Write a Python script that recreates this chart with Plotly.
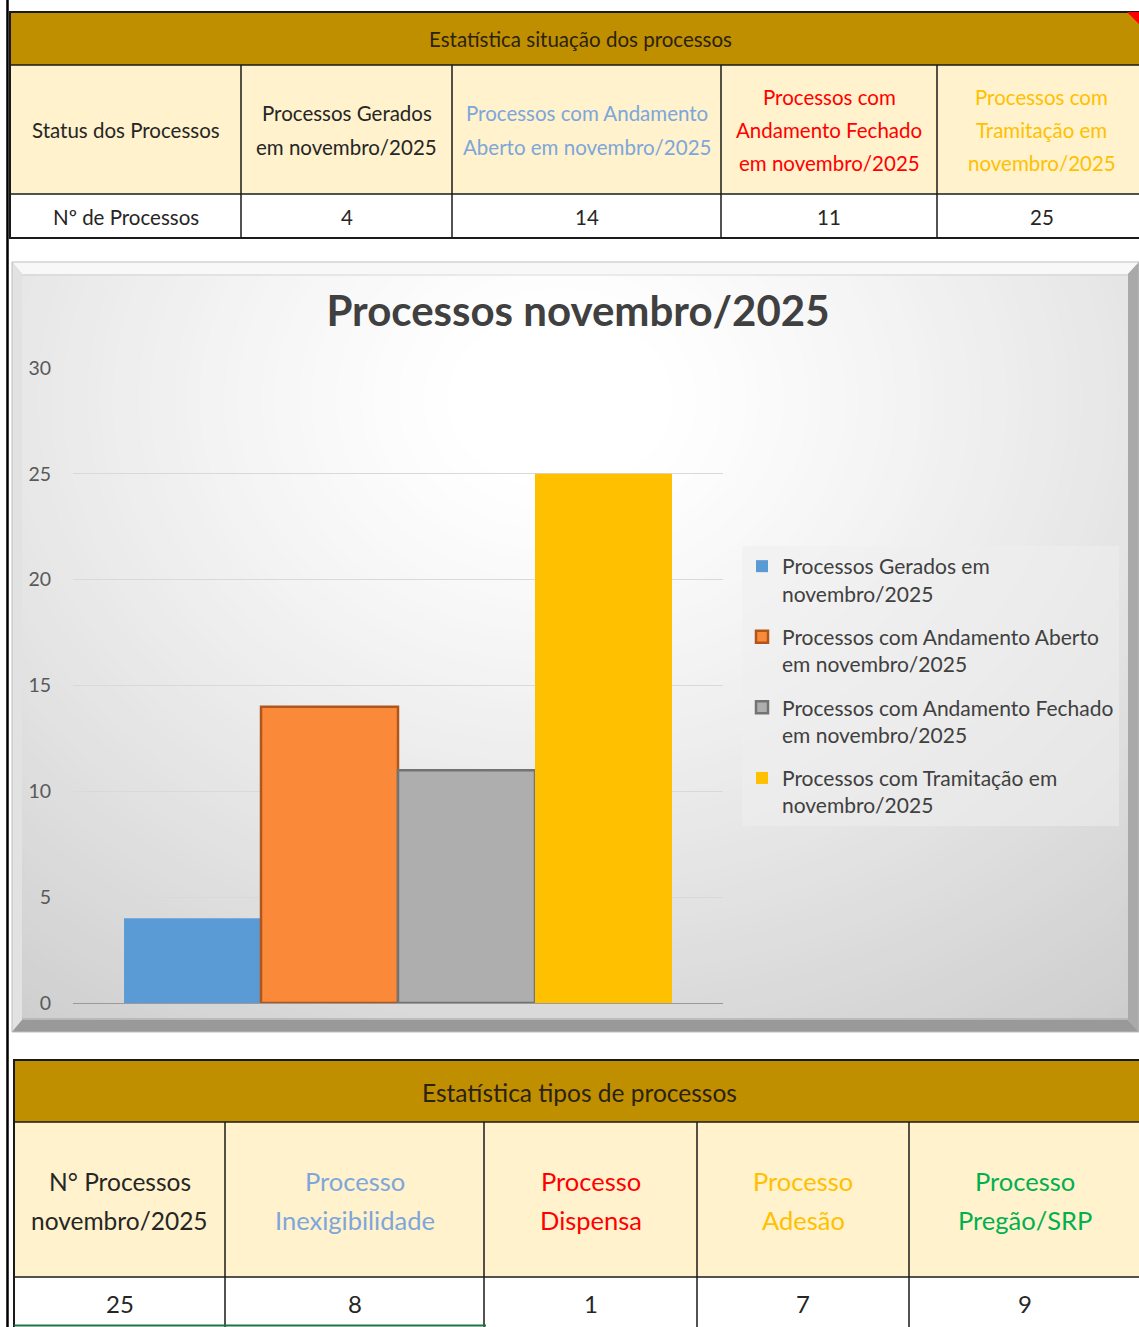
import numpy as np
import plotly.graph_objects as go

W, H = 1139, 1327
FONT = "Lato, 'Open Sans', sans-serif"


def X(px):
    return px / W


def Y(py):
    return 1 - py / H


# ---------------- data ----------------
top_title = "Estatística situação dos processos"
status_head = "Status dos Processos"
row_label = "Nº de Processos"
status_names = [
    "Processos Gerados em novembro/2025",
    "Processos com Andamento Aberto em novembro/2025",
    "Processos com Andamento Fechado em novembro/2025",
    "Processos com Tramitação em novembro/2025",
]
status_head_lines = [
    ["Processos Gerados", "em novembro/2025"],
    ["Processos com Andamento", "Aberto em novembro/2025"],
    ["Processos com", "Andamento Fechado", "em novembro/2025"],
    ["Processos com", "Tramitação em", "novembro/2025"],
]
legend_names = [
    "Processos Gerados em<br>novembro/2025",
    "Processos com Andamento Aberto<br>em novembro/2025",
    "Processos com Andamento Fechado<br>em novembro/2025",
    "Processos com Tramitação em<br>novembro/2025",
]
status_values = [4, 14, 11, 25]

chart_title = "Processos novembro/2025"
category = ["Nº de Processos"]

bottom_title = "Estatística tipos de processos"
total_head_lines = ["N° Processos", "novembro/2025"]
total_value = 25
tipos_head_lines = [
    ["Processo", "Inexigibilidade"],
    ["Processo", "Dispensa"],
    ["Processo", "Adesão"],
    ["Processo", "Pregão/SRP"],
]
tipos_values = [8, 1, 7, 9]

# ---------------- styles ----------------
bar_colors = ["#5B9BD5", "#FA8A3A", "#AEAEAE", "#FFC000"]
bar_lines = ["rgba(0,0,0,0)", "#B0561C", "#737373", "rgba(0,0,0,0)"]
bar_line_w = [0, 2.5, 2.5, 0]
head_colors = ["#262626", "#7DA6DB", "#FF0000", "#FFC000"]
tipos_colors = ["#7DA6DB", "#FF0000", "#FFC000", "#00B050"]
GOLD = "#BF8F00"
CREAM = "#FFF2CC"
DARK = "#262626"

shapes = []
annotations = []


def rect(x0, y0, x1, y1, fill=None, line=None, lw=0, layer="below"):
    shapes.append(dict(type="rect", xref="paper", yref="paper",
                       x0=X(x0), x1=X(x1), y0=Y(y1), y1=Y(y0),
                       fillcolor=fill if fill else "rgba(0,0,0,0)",
                       line=dict(color=line if line else "rgba(0,0,0,0)", width=lw),
                       layer=layer))


def seg(x0, y0, x1, y1, color, lw, layer="above"):
    shapes.append(dict(type="line", xref="paper", yref="paper",
                       x0=X(x0), x1=X(x1), y0=Y(y0), y1=Y(y1),
                       line=dict(color=color, width=lw), layer=layer))


def poly(pts, fill, layer="below"):
    path = "M" + " L".join(f"{X(a):.6f},{Y(b):.6f}" for a, b in pts) + " Z"
    shapes.append(dict(type="path", xref="paper", yref="paper", path=path,
                       fillcolor=fill, line=dict(width=0), layer=layer))


def text(x, y, s, size, color, bold=False):
    if bold:
        s = f"<b>{s}</b>"
    annotations.append(dict(x=X(x), y=Y(y), xref="paper", yref="paper", text=s,
                            showarrow=False, xanchor="center", yanchor="middle",
                            font=dict(size=size, color=color, family=FONT)))


# ---------------- left frame line ----------------
seg(7.5, 0, 7.5, H, "#000000", 2.5)

# ---------------- top table ----------------
TR = 1150
rect(10, 12, TR, 65, fill=GOLD)
rect(10, 65, TR, 194, fill=CREAM)
rect(10, 194, TR, 238, fill="#FFFFFF")
rect(10, 12, TR, 238, line="#1A1A1A", lw=2, layer="above")
seg(10, 65, TR, 65, "#1A1A1A", 1.5)
seg(10, 194, TR, 194, "#1A1A1A", 1.5)
top_cols = [10, 241, 452, 721, 937, 1146]
for xc in top_cols[1:-1]:
    seg(xc, 65, xc, 238, "#1A1A1A", 1.5)
poly([(1127, 12), (1139, 12), (1139, 24)], "#FF0000", layer="above")

text(580, 39, top_title, 20.5, "#2B2210")
centers = [(top_cols[i] + top_cols[i + 1]) / 2 for i in range(5)]
text(centers[0], 130, status_head, 20.5, DARK)
text(centers[0], 217, row_label, 20.5, DARK)
for i, lines in enumerate(status_head_lines):
    n = len(lines)
    y0 = 130 - (n - 1) * 33 / 2
    for j, ln in enumerate(lines):
        text(centers[i + 1], y0 + j * 33, ln, 20.5, head_colors[i])
    text(centers[i + 1], 217, str(status_values[i]), 20.5, DARK)

# ---------------- chart frame & background ----------------
ox0, oy0, ox1, oy1 = 12, 262, 1139, 1032
ix0, iy0, ix1, iy1 = 22, 274, 1128, 1020
rect(ox0, oy0, ox1, oy1, fill="#C4C4C4")
cx, cy, rx, ry = 560, 400, 860, 700
N = 90
theta = np.linspace(0, 2 * np.pi, 140)
for i in range(N, 0, -1):
    d = i / N * 1.3
    t = float(np.clip((d - 0.12) / 1.0, 0, 1))
    g = int(round(255 - 50 * t ** 1.15))
    xs = np.clip(cx + d * rx * np.cos(theta), ix0, ix1)
    ys = np.clip(cy + d * ry * np.sin(theta), iy0, iy1)
    poly(list(zip(xs, ys)), f"rgb({g},{g},{g})")
# bevel bands
poly([(ox0, oy0), (ox1, oy0), (ix1, iy0), (ix0, iy0)], "#F8F8F8")
poly([(ox0, oy0), (ix0, iy0), (ix0, iy1), (ox0, oy1)], "#E2E2E2")
poly([(ox0, oy1), (ix0, iy1), (ix1, iy1), (ox1, oy1)], "#999999")
poly([(ox1, oy0), (ix1, iy0), (ix1, iy1), (ox1, oy1)], "#A9A9A9")
seg(ix0, iy0 + 1, ix1, iy0 + 1, "rgba(200,200,200,0.7)", 1, layer="below")
seg(ix0, iy1 - 1, ix1, iy1 - 1, "rgba(170,170,170,0.8)", 1.5, layer="below")
rect(ox0, oy0, ox1, oy1, line="#BDBDBD", lw=1, layer="below")

# ---------------- bottom table ----------------
BB = 1340
rect(14, 1060, TR, 1122, fill=GOLD)
rect(14, 1122, TR, 1277, fill=CREAM)
rect(14, 1277, TR, BB, fill="#FFFFFF")
rect(14, 1060, TR, BB, line="#1A1A1A", lw=2, layer="above")
seg(14, 1122, TR, 1122, "#1A1A1A", 1.5)
seg(14, 1277, TR, 1277, "#1A1A1A", 1.5)
bot_cols = [14, 225, 484, 697, 909, 1141]
for xc in bot_cols[1:-1]:
    seg(xc, 1122, xc, BB, "#1A1A1A", 1.5)
seg(14, 1325.5, 486, 1325.5, "#217346", 2)

text(579, 1092, bottom_title, 24.5, "#2B2210")
bcent = [(bot_cols[i] + bot_cols[i + 1]) / 2 for i in range(5)]
text(bcent[0], 1181, total_head_lines[0], 24.5, DARK)
text(bcent[0], 1220, total_head_lines[1], 24.5, DARK)
text(bcent[0], 1303, str(total_value), 24, DARK)
for i, lines in enumerate(tipos_head_lines):
    for j, ln in enumerate(lines):
        text(bcent[i + 1], 1181 + j * 39, ln, 25.5, tipos_colors[i])
    text(bcent[i + 1], 1303, str(tipos_values[i]), 24, DARK)

# ---------------- chart ----------------
fig = go.Figure()
for i in range(4):
    fig.add_trace(go.Bar(
        x=category, y=[status_values[i]], name=legend_names[i],
        legendgroup=str(i),
        marker=dict(color=bar_colors[i], line=dict(color=bar_lines[i], width=bar_line_w[i])),
        hovertext=status_names[i],
    ))

fig.update_layout(
    width=W, height=H,
    margin=dict(l=0, r=0, t=0, b=0, pad=0, autoexpand=False),
    paper_bgcolor="#FFFFFF",
    plot_bgcolor="rgba(0,0,0,0)",
    font=dict(family=FONT, color="#404040"),
    barmode="group", bargap=0.157, bargroupgap=0,
    title=dict(text=f"<b>{chart_title}</b>", x=X(578), y=Y(311), xanchor="center",
               yanchor="middle", xref="paper", yref="paper", automargin=False,
               font=dict(size=42, color="#404040", family=FONT)),
    xaxis=dict(domain=[X(73), X(723)], range=[-0.5, 0.5], showticklabels=False,
               showgrid=False, zeroline=False, showline=False, fixedrange=True,
               automargin=False),
    yaxis=dict(domain=[Y(1003), Y(368)], range=[0, 30], dtick=5, tick0=0,
               showgrid=True, gridcolor="#D9D9D9", gridwidth=1,
               zeroline=True, zerolinecolor="#9A9A9A", zerolinewidth=1,
               showline=False, ticks="", ticklabelstandoff=21, automargin=False,
               tickfont=dict(size=19.5, color="#595959", family=FONT)),
    showlegend=True,
    legend=dict(x=X(742), y=Y(546), xanchor="left", yanchor="top",
                bgcolor="rgba(238,238,238,0.55)", borderwidth=0,
                font=dict(size=21, color="#404040", family=FONT),
                tracegroupgap=13, valign="top", traceorder="grouped"),
    shapes=shapes,
    annotations=annotations,
)

fig.write_html("out.html", config={"displayModeBar": False},
               post_script="document.body.style.margin='0';")
